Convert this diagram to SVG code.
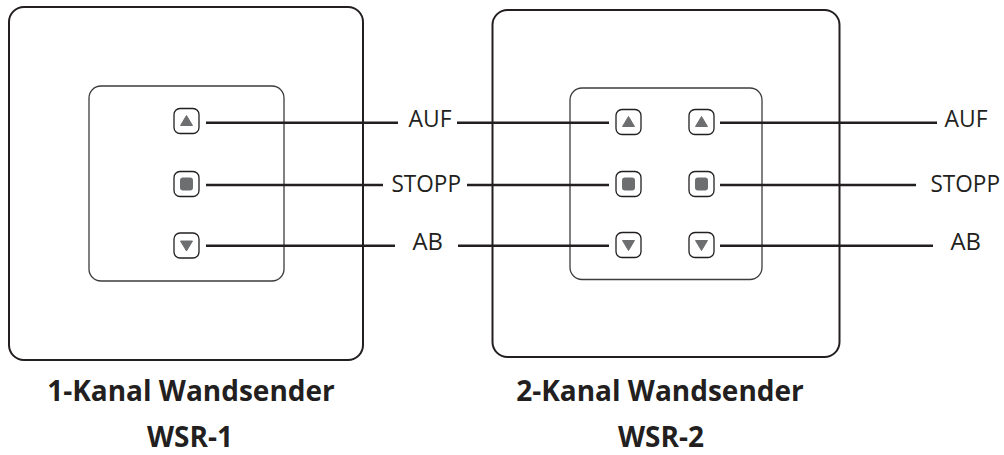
<svg xmlns="http://www.w3.org/2000/svg" width="1004" height="455" viewBox="0 0 1004 455">
<defs>
<style>
.outer{fill:#fff;stroke:#231f20;stroke-width:2}
.inner{fill:none;stroke:#3c3c3c;stroke-width:1.3}
.btn{fill:#fff;stroke:#231f20;stroke-width:1.3}
.sym{fill:#6d6e70}
.conn{stroke:#231f20;stroke-width:2.6;fill:none}
.lbl{font-family:"Open Sans","Liberation Sans",sans-serif;font-size:23.5px;fill:#231f20}
.title{font-family:"Open Sans","Liberation Sans",sans-serif;font-size:28px;font-weight:bold;fill:#231f20;text-anchor:middle}
</style>
<g id="bUp"><rect class="btn" x="-12.5" y="-12.5" width="25" height="25" rx="6"/><path class="sym" d="M-6,4.5 L6,4.5 L0,-5.5 Z" stroke="#6d6e70" stroke-width="1" stroke-linejoin="round"/></g>
<g id="bStop"><rect class="btn" x="-12.5" y="-12.5" width="25" height="25" rx="6"/><rect class="sym" x="-6.5" y="-6.5" width="13" height="13" rx="3"/></g>
<g id="bDown"><rect class="btn" x="-12.5" y="-12.5" width="25" height="25" rx="6"/><path class="sym" d="M-6,-4.5 L6,-4.5 L0,5.5 Z" stroke="#6d6e70" stroke-width="1" stroke-linejoin="round"/></g>
</defs>
<rect width="1004" height="455" fill="#fff"/>

<g id="wsr1">
<rect class="outer" x="9" y="7" width="354" height="353" rx="15"/>
<rect class="inner" x="89" y="86" width="195" height="195" rx="12"/>
<use href="#bUp" x="186.5" y="121"/>
<use href="#bStop" x="186.5" y="184"/>
<use href="#bDown" x="186.5" y="245.5"/>
</g>

<g id="wsr2">
<rect class="outer" x="492.5" y="10" width="347" height="347" rx="15"/>
<rect class="inner" x="570" y="88" width="192" height="191.5" rx="12"/>
<use href="#bUp" x="628.5" y="122"/>
<use href="#bStop" x="628.5" y="184"/>
<use href="#bDown" x="628.5" y="245"/>
<use href="#bUp" x="701.5" y="122"/>
<use href="#bStop" x="701.5" y="184"/>
<use href="#bDown" x="701.5" y="245"/>
</g>

<g id="connectors">
<line class="conn" x1="206" y1="122.7" x2="398" y2="122.7"/>
<line class="conn" x1="206" y1="185" x2="383" y2="185"/>
<line class="conn" x1="206" y1="245.7" x2="395" y2="245.7"/>
<line class="conn" x1="457" y1="122.7" x2="609" y2="122.7"/>
<line class="conn" x1="467" y1="185" x2="609" y2="185"/>
<line class="conn" x1="458" y1="245.7" x2="609" y2="245.7"/>
<line class="conn" x1="720" y1="122.7" x2="937" y2="122.7"/>
<line class="conn" x1="720" y1="185" x2="916" y2="185"/>
<line class="conn" x1="720" y1="245.7" x2="933" y2="245.7"/>
</g>

<g id="labels">
<text class="lbl" x="408.5" y="127" textLength="43" lengthAdjust="spacingAndGlyphs">AUF</text>
<text class="lbl" x="391.5" y="192" textLength="69.5" lengthAdjust="spacingAndGlyphs">STOPP</text>
<text class="lbl" x="412.5" y="250" textLength="30.5" lengthAdjust="spacingAndGlyphs">AB</text>
<text class="lbl" x="944.5" y="127" textLength="43" lengthAdjust="spacingAndGlyphs">AUF</text>
<text class="lbl" x="930.5" y="192" textLength="69.5" lengthAdjust="spacingAndGlyphs">STOPP</text>
<text class="lbl" x="950.5" y="250" textLength="30.5" lengthAdjust="spacingAndGlyphs">AB</text>
</g>

<g id="titles">
<text class="title" x="191" y="401">1-Kanal Wandsender</text>
<text class="title" x="190" y="447">WSR-1</text>
<text class="title" x="660" y="401">2-Kanal Wandsender</text>
<text class="title" x="661" y="447">WSR-2</text>
</g>
</svg>
